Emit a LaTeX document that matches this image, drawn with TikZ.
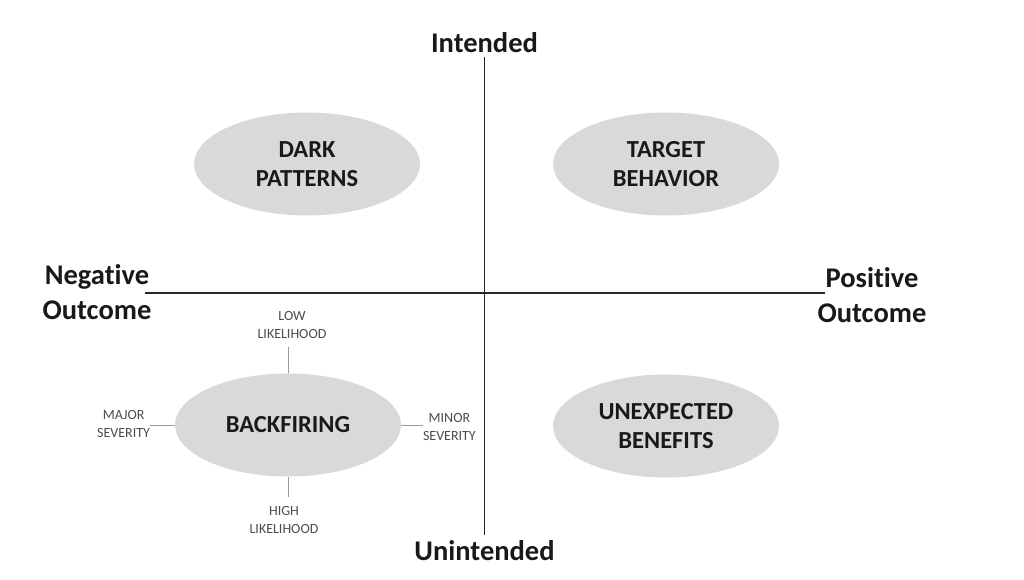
\documentclass[tikz,border=0pt]{standalone}
\usepackage{fontspec}
\setmainfont{Carlito}[Ligatures=NoCommon]
\usetikzlibrary{shapes.geometric,backgrounds}
\newcommand{\axefont}{\fontsize{28.5}{35}\selectfont\bfseries}
\newcommand{\bullefont}{\fontsize{24.5}{29}\selectfont\bfseries}
\newcommand{\petitfont}{\fontsize{14}{18}\selectfont}

\begin{document}
\begin{tikzpicture}[%
    x=1pt, y=-1pt,%
    show background rectangle,%
    tight background,%
    background rectangle/.style={fill=white},%
    axe/.style={draw=black!85, line width=1.7pt},%
    axelabel/.style={font=\axefont, text=black!90, align=center, inner sep=5pt},%
    bulle/.style={ellipse, fill=black!15, minimum width=226pt, minimum height=103pt,
      inner sep=0pt, font=\bullefont, text=black!90, align=center},%
    tag/.style={font=\petitfont, text=black!70, align=center, inner sep=0pt,
      outer xsep=0pt, outer ysep=8.5pt},%
    tick/.style={draw=black!40, line width=0.9pt}%
    ]
  \useasboundingbox (0,0) rectangle (1024,579);%

  % Coordonnées
  \coordinate (W) at (145,293);%
  \coordinate (E) at (825,293);%

  % Axes
  \node[axelabel, anchor=base] (int) at (484.5,52) {Intended};%
  \node[axelabel, anchor=base] (unint) at (484.5,560) {Unintended};%
  \node[axelabel] (neg) at (97,292) {Negative\\Outcome};%
  \node[axelabel] (pos) at (872,295.5) {Positive\\Outcome};%

  % Bulles
  \node[bulle] (dark) at (307,164) {DARK\\PATTERNS};%
  \node[bulle] (target) at (666,164) {TARGET\\BEHAVIOR};%
  \node[bulle] (back) at (288,425) {BACKFIRING};%
  \node[bulle] (unexp) at (666,426) {UNEXPECTED\\BENEFITS};%

  % Étiquettes
  \node[tag] (low) at (292,324.5) {LOW\\LIKELIHOOD};%
  \node[tag] (high) at (284,519.5) {HIGH\\LIKELIHOOD};%
  \node[tag, anchor=east] (major) at (150,424) {MAJOR\\SEVERITY};%
  \node[tag, anchor=west] (minor) at (423,427) {MINOR\\SEVERITY};%

  % Lignes
  \draw[axe] (int.south) -- (int.south |- unint.north);%
  \draw[axe] (W) -- (E);%
  \draw[tick] (back.north) -- (back.north |- low.south);%
  \draw[tick] (back.south) -- (back.south |- high.north);%
  \draw[tick] (back.west) -- (back.west -| major.east);%
  \draw[tick] (back.east) -- (back.east -| minor.west);%
\end{tikzpicture}
\end{document}
